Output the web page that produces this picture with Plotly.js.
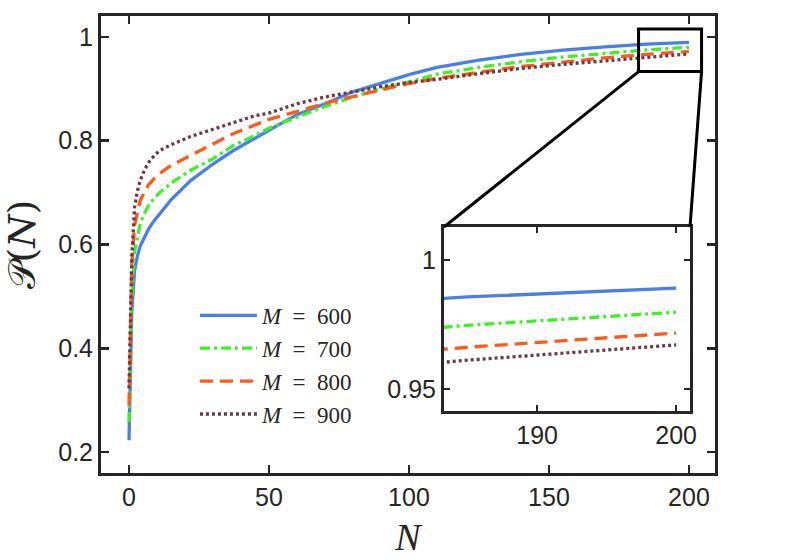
<!DOCTYPE html>
<html>
<head>
<meta charset="utf-8">
<script src="https://cdn.plot.ly/plotly-3.0.1.min.js"></script>
<style>
  body { margin: 0; background: #fff; }
  #plot { width: 788px; height: 560px; }
</style>
</head>
<body>
<div id="plot"></div>
<script>
// values
var N = [0, 1, 2, 3, 4, 5.5, 7, 9, 11, 15, 22, 30, 37, 45, 50, 60, 70, 80, 90, 100, 110, 125, 140, 155, 170, 185, 200];

var P600 = [0.223, 0.47, 0.55, 0.578, 0.597, 0.615, 0.63, 0.646, 0.66, 0.686, 0.723, 0.755, 0.78, 0.805, 0.82, 0.85, 0.871, 0.894, 0.911, 0.927, 0.941, 0.955, 0.966, 0.9745, 0.9805, 0.9857, 0.9891];
var P700 = [0.258, 0.50, 0.587, 0.618, 0.64, 0.66, 0.675, 0.689, 0.70, 0.718, 0.743, 0.765, 0.79, 0.81, 0.824, 0.845, 0.866, 0.884, 0.90, 0.913, 0.928, 0.941, 0.952, 0.961, 0.968, 0.9747, 0.9798];
var P800 = [0.29, 0.56, 0.637, 0.665, 0.685, 0.70, 0.715, 0.727, 0.737, 0.752, 0.771, 0.794, 0.813, 0.83, 0.841, 0.856, 0.872, 0.885, 0.898, 0.910, 0.920, 0.932, 0.943, 0.951, 0.9595, 0.9662, 0.9717];
var P900 = [0.323, 0.576, 0.672, 0.703, 0.723, 0.743, 0.758, 0.771, 0.781, 0.792, 0.808, 0.822, 0.833, 0.848, 0.853, 0.871, 0.884, 0.894, 0.904, 0.912, 0.918, 0.929, 0.939, 0.947, 0.954, 0.9612, 0.9671];

var labels = ['<i>M</i>\u2002=\u2002600', '<i>M</i>\u2002=\u2002700', '<i>M</i>\u2002=\u2002800', '<i>M</i>\u2002=\u2002900'];
var colors = ['#4a7fe8', '#3ef02a', '#ff5a1e', '#6b3a44'];
var dashes = ['solid', '10px,4px,3px,4px', '13px,7px', '3px,3px'];
var series = [P600, P700, P800, P900];

var xMain = [-10, 209.3], yMain = [0.16, 1.04];
var xIn = [183.3, 201], yIn = [0.9415, 1.0128];
var inDomX = [0.5586, 0.9593], inDomY = [0.1357, 0.5383];
var zoomBox = {x0: 182, x1: 204.5, y0: 0.933, y1: 1.015};

var data = [];
series.forEach(function (s, i) {
  data.push({
    x: N, y: s, type: 'scatter', mode: 'lines', name: labels[i],
    line: {color: colors[i], width: 3.3, dash: dashes[i]},
    xaxis: 'x', yaxis: 'y'
  });
});
series.forEach(function (s, i) {
  data.push({
    x: N, y: s, type: 'scatter', mode: 'lines', showlegend: false,
    line: {color: colors[i], width: 3.3, dash: dashes[i]},
    xaxis: 'x2', yaxis: 'y2'
  });
});

function px(v) { return (v - xMain[0]) / (xMain[1] - xMain[0]); }
function py(v) { return (v - yMain[0]) / (yMain[1] - yMain[0]); }

var ink = '#262626';
var tickFont = {family: 'Liberation Sans, Arial, sans-serif', size: 25, color: ink};

function axis(extra) {
  var a = {
    showgrid: false, zeroline: false, showline: true, mirror: 'ticks',
    linecolor: ink, linewidth: 3, ticks: 'inside', ticklen: 8, tickwidth: 2.5,
    tickcolor: ink, tickfont: tickFont
  };
  for (var k in extra) a[k] = extra[k];
  return a;
}

var layout = {
  width: 788, height: 560,
  margin: {l: 101, r: 73, t: 16, b: 87},
  paper_bgcolor: '#fff', plot_bgcolor: '#fff',
  showlegend: true,
  legend: {
    x: 0.153, y: 0.392, xanchor: 'left', yanchor: 'top',
    bgcolor: 'rgba(0,0,0,0)', borderwidth: 0, itemwidth: 57,
    tracegroupgap: 0,
    font: {family: 'Liberation Serif, DejaVu Serif, serif', size: 23, color: ink}
  },
  xaxis: axis({
    range: xMain, tickvals: [0, 50, 100, 150, 200],
    title: {text: '<i>N</i>', standoff: 14,
      font: {family: 'Liberation Serif, DejaVu Serif, serif', size: 38, color: ink}}
  }),
  yaxis: axis({
    range: yMain, tickvals: [0.2, 0.4, 0.6, 0.8, 1], ticktext: ['0.2', '0.4', '0.6', '0.8', '1'],
    title: {text: '\uD835\uDCAB(<i>N</i>)', standoff: 20,
      font: {family: 'DejaVu Serif, Liberation Serif, serif', size: 38, color: ink}}
  }),
  xaxis2: axis({
    domain: inDomX, anchor: 'y2', range: xIn, tickvals: [190, 200], ticklen: 6
  }),
  yaxis2: axis({
    domain: inDomY, anchor: 'x2', range: yIn, tickvals: [0.95, 1], ticktext: ['0.95', '1'], ticklen: 6
  }),
  shapes: [
    {type: 'rect', xref: 'x', yref: 'y', x0: zoomBox.x0, x1: zoomBox.x1, y0: zoomBox.y0, y1: zoomBox.y1,
      line: {color: '#000', width: 3}},
    {type: 'line', xref: 'paper', yref: 'paper', x0: px(zoomBox.x0), y0: py(zoomBox.y0), x1: inDomX[0], y1: inDomY[1],
      line: {color: '#000', width: 3}},
    {type: 'line', xref: 'paper', yref: 'paper', x0: px(zoomBox.x1), y0: py(zoomBox.y0), x1: inDomX[1], y1: inDomY[1],
      line: {color: '#000', width: 3}}
  ]
};

Plotly.newPlot('plot', data, layout, {displayModeBar: false, staticPlot: true});
</script>
</body>
</html>
